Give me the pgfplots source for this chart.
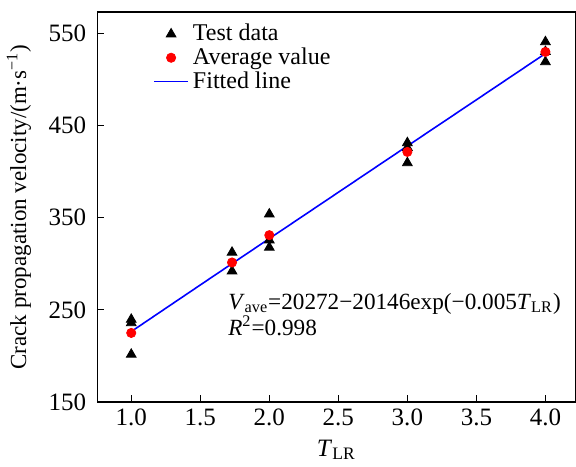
\documentclass[border=0pt]{standalone}
\usepackage{pgfplots}
\pgfplotsset{compat=1.18}
\usepackage{fontspec}
\setmainfont{Liberation Serif}
\begin{document}
\fontsize{10}{12}\selectfont
\begin{tikzpicture}
\begin{axis}[
  scale only axis,
  width=239pt, height=195pt,
  xmin=0.754, xmax=4.217,
  ymin=150, ymax=573,
  axis line style={line width=0.6pt},
  xtick={1,1.5,2,2.5,3,3.5,4},
  xticklabels={1.0,1.5,2.0,2.5,3.0,3.5,4.0},
  ytick={150,250,350,450,550},
  tick align=inside,
  xtick pos=bottom, ytick pos=left,
  major tick length=3.5pt,
  tick style={line width=0.6pt, black},
  /pgf/number format/assume math mode=true,
  tick label style={font=\fontsize{12.5}{14}\selectfont},
  yticklabel style={xshift=-2pt},
  xlabel={\textit{T}\textsubscript{LR}},
  ylabel={Crack propagation velocity/(m·s\textsuperscript{−1})},
  xlabel style={font=\fontsize{12.5}{14}\selectfont},
  ylabel style={font=\fontsize{11.5}{13}\selectfont, yshift=2pt},
  legend style={draw=none, fill=none, at={(0.112,0.985)}, anchor=north west,
    font=\fontsize{12}{12}\selectfont, row sep=-2pt, inner sep=1pt},
  legend cell align=left,
]
\addplot[only marks, mark=triangle*, mark size=2.8pt, black] coordinates {
 (1,239.6) (1,235.9) (1,201.7)
 (1.73,312.3) (1.73,292.0)
 (2,353.8) (2,325.6) (2,317.7)
 (3,431.1) (3,426.0) (3,409.4)
 (4,540.6) (4,530.0) (4,518.9)
};
\addlegendentry{Test data}
\addplot[only marks, mark=*, mark size=2.3pt, red] coordinates {
 (1,225.0) (1.73,301.4) (2,331.0) (3,421.3) (4,529.7)
};
\addlegendentry{Average value}
\addplot[blue, line width=0.8pt] coordinates {
 (1,226.5) (1.5,277.0) (2,327.3) (2.5,377.5) (3,427.7) (3.5,477.8) (4,528.0)
};
\addlegendentry{Fitted line}
\node[anchor=west, inner sep=0pt, font=\fontsize{11.6}{13}\selectfont] at (axis cs:1.70,257) {\textit{V}\textsubscript{ave}=20272−20146exp(−0.005\textit{T}\textsubscript{LR})};
\node[anchor=west, inner sep=0pt, font=\fontsize{11.6}{13}\selectfont] at (axis cs:1.70,233) {\textit{R}\textsuperscript{2}=0.998};
\end{axis}
\path (current axis.north) ++(0,6pt);
\end{tikzpicture}
\end{document}
